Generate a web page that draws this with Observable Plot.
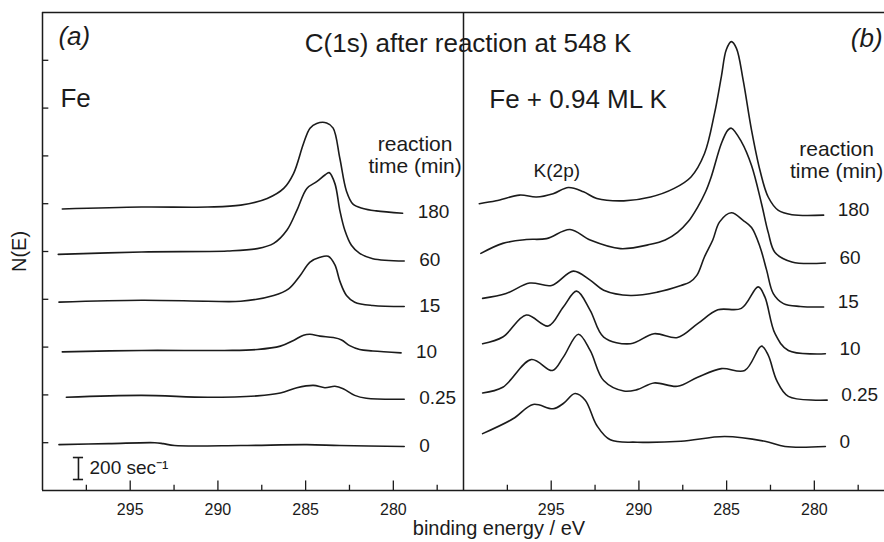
<!DOCTYPE html>
<html>
<head>
<meta charset="utf-8">
<script src="https://cdn.jsdelivr.net/npm/d3@7"></script>
<script src="https://cdn.jsdelivr.net/npm/@observablehq/plot@0.6"></script>
<style>
  html, body { margin: 0; padding: 0; background: #fff; }
  #chart svg { display: block; }
</style>
</head>
<body>
<div id="chart"></div>
<script>
// ---- data (binding energy eV, N(E) in axis-tick units, traces stacked) ----
const panels = ["a", "b"];
const times = ["180", "60", "15", "10", "0.25", "0"];

// panel (a): clean Fe
const fe180 = [[298.87,5.89],[294.35,5.93],[290.58,5.93],[288.70,5.97],[287.19,6.11],[286.25,6.32],[285.69,6.63],[285.12,7.26],[284.75,7.58],[284.37,7.68],[283.80,7.69],[283.43,7.58],[283.05,6.95],[282.67,6.26],[282.30,5.99],[281.73,5.90],[280.98,5.85],[279.47,5.80]];
const fe60 = [[299.10,4.94],[294.35,4.99],[289.45,5.01],[287.76,5.06],[286.82,5.17],[286.06,5.45],[285.50,5.86],[284.93,6.32],[284.37,6.46],[283.90,6.60],[283.66,6.65],[283.33,6.42],[283.05,5.86],[282.77,5.45],[282.39,5.13],[281.92,4.96],[281.17,4.85],[279.38,4.80]];
const fe15 = [[299.06,3.94],[294.35,3.98],[290.58,3.96],[288.70,3.96],[286.82,4.08],[285.97,4.22],[285.31,4.50],[284.75,4.78],[284.18,4.88],[283.71,4.90],[283.33,4.72],[283.05,4.38],[282.67,4.08],[282.20,3.94],[281.17,3.87],[279.38,3.85]];
const fe10 = [[298.87,2.90],[294.35,2.93],[289.64,2.93],[287.76,2.95],[286.44,3.02],[285.69,3.14],[285.12,3.25],[284.75,3.27],[284.18,3.23],[283.43,3.20],[282.95,3.15],[282.49,3.03],[281.92,2.95],[281.17,2.92],[279.56,2.88]];
const fe025 = [[298.64,1.95],[294.35,1.99],[290.58,1.95],[287.76,1.98],[286.44,2.04],[285.50,2.15],[284.56,2.20],[283.90,2.15],[283.33,2.18],[282.86,2.13],[282.20,1.99],[281.54,1.93],[279.38,1.91]];
const fe0 = [[299.06,0.96],[296.23,0.98],[293.60,1.00],[293.12,0.98],[292.47,0.94],[288.70,0.94],[284.93,0.96],[283.05,0.94],[279.38,0.92]];

// panel (b): Fe + 0.94 ML K
const feK180 = [[299.10,6.00],[298.14,6.06],[296.80,6.18],[295.84,6.14],[294.89,6.21],[294.02,6.34],[293.16,6.25],[292.40,6.11],[290.86,6.06],[289.33,6.14],[287.99,6.32],[287.03,6.56],[286.26,7.05],[285.69,7.89],[285.30,8.66],[285.02,9.22],[284.73,9.39],[284.44,9.25],[284.06,8.59],[283.58,7.54],[283.10,6.70],[282.63,6.14],[282.05,5.86],[281.28,5.77],[279.47,5.76]];
const feK60 = [[299.01,4.96],[297.76,5.17],[296.42,5.25],[295.27,5.27],[293.93,5.46],[292.78,5.24],[291.05,5.06],[289.33,5.15],[288.50,5.24],[287.80,5.40],[287.20,5.62],[286.65,5.93],[286.20,6.25],[285.88,6.56],[285.30,7.26],[284.93,7.54],[284.73,7.58],[284.16,7.30],[283.58,6.80],[283.01,6.00],[282.63,5.40],[282.24,4.98],[281.28,4.78],[279.37,4.76]];
const feK15 = [[298.91,4.02],[297.57,4.12],[296.22,4.34],[294.98,4.29],[293.74,4.59],[292.78,4.40],[292.01,4.19],[290.48,4.08],[288.95,4.15],[287.60,4.29],[287.10,4.36],[286.70,4.50],[286.26,4.89],[285.79,5.24],[285.40,5.62],[284.73,5.81],[284.06,5.65],[283.58,5.50],[283.10,5.10],[282.72,4.61],[282.34,4.12],[281.76,3.91],[280.80,3.85],[279.47,3.84]];
const feK10 = [[298.91,3.07],[297.76,3.21],[296.42,3.67],[295.17,3.44],[294.31,3.84],[293.55,4.17],[292.78,3.77],[292.01,3.21],[290.48,3.07],[289.14,3.28],[287.80,3.20],[286.65,3.49],[285.50,3.78],[284.16,3.81],[283.20,4.26],[282.82,4.05],[282.24,3.28],[281.48,2.93],[279.37,2.86]];
const feK025 = [[298.91,2.04],[297.76,2.16],[296.13,2.74],[294.93,2.51],[294.31,2.79],[293.45,3.27],[292.78,2.93],[292.01,2.30],[290.86,2.08],[290.10,2.11],[289.14,2.25],[287.80,2.18],[286.65,2.37],[285.30,2.55],[283.97,2.51],[283.01,3.02],[282.63,2.83],[282.14,2.30],[281.48,1.97],[279.27,1.89]];
const feK0 = [[298.91,1.19],[297.18,1.50],[296.03,1.80],[294.89,1.71],[294.31,1.82],[293.64,2.03],[293.06,1.89],[292.40,1.36],[291.63,1.06],[290.10,1.01],[287.60,1.03],[285.11,1.13],[282.82,1.03],[281.67,0.92],[279.37,0.92]];

const yTicks = [1, 2, 3, 4, 5, 6, 7, 8, 9];
const xMajor = [295, 290, 285, 280];
const xMinor = [297.5, 292.5, 287.5, 282.5, 277.5];
const scaleBarValue = 200;

// ---- build table ----
const seriesA = [fe180, fe60, fe15, fe10, fe025, fe0];
const seriesB = [feK180, feK60, feK15, feK10, feK025, feK0];
const rows = [];
[seriesA, seriesB].forEach((set, p) => set.forEach((pts, i) => pts.forEach(([E, N]) =>
  rows.push({panel: panels[p], time: times[i], key: panels[p] + times[i], E, N}))));

const ink = "#1b1b1b";
const font = "'Liberation Sans', Arial, Helvetica, sans-serif";
const note = (panel, text, x, y, o = {}) =>
  Plot.text([{panel, text}], {fx: "panel", text: "text", x, y, fill: ink, lineAnchor: "bottom", ...o});

const chart = Plot.plot({
  width: 884, height: 542,
  marginLeft: 41, marginRight: 0, marginTop: 12, marginBottom: 52,
  style: {fontFamily: font, background: "#fff", color: ink},
  fx: {domain: panels, padding: 0, axis: null, label: null},
  x: {domain: [300, 276], axis: null},
  y: {domain: [0, 10], axis: null},
  marks: [
    // frame
    Plot.ruleY([0, 10], {stroke: ink, strokeWidth: 1.5}),
    Plot.ruleX([300], {stroke: ink, strokeWidth: 1.5}),
    // inward y ticks on the left axis only
    Plot.ruleY(yTicks.map(y => ({panel: "a", y})), {fx: "panel", y: "y", x1: 300, x2: 299.64, stroke: ink, strokeWidth: 1.3}),
    // inward x ticks
    Plot.ruleX(xMajor, {x: d => d, y1: 0, y2: 0.2, stroke: ink, strokeWidth: 1.3}),
    Plot.ruleX(xMinor, {x: d => d, y1: 0, y2: 0.11, stroke: ink, strokeWidth: 1.3}),
    Plot.text(xMajor, {x: d => d, y: 0, text: d => String(d), dy: 13, lineAnchor: "top", fontSize: 16, fill: ink}),
    // spectra
    Plot.line(rows, {fx: "panel", x: "E", y: "N", z: "key", curve: "catmull-rom", stroke: ink, strokeWidth: 1.6}),
    // reaction time labels at trace ends
    Plot.text(rows.filter(d => d.panel === "a"), Plot.selectLast({fx: "panel", x: "E", y: "N", z: "key", text: "time", dx: 15, dy: -1, textAnchor: "start", fontSize: 19, fill: ink})),
    Plot.text(rows.filter(d => d.panel === "b"), Plot.selectLast({fx: "panel", x: "E", y: "N", z: "key", text: "time", dx: 14, dy: -5, textAnchor: "start", fontSize: 19, fill: ink})),
    // annotations
    note("a", "(a)", 299.09, 9.33, {textAnchor: "start", fontSize: 26, fontStyle: "italic"}),
    note("a", "Fe", 298.98, 8.03, {textAnchor: "start", fontSize: 26}),
    note("a", "C(1s) after reaction at 548 K", 275.74, 9.18, {textAnchor: "middle", fontSize: 26}),
    note("a", "reaction", 278.76, 7.11, {textAnchor: "middle", fontSize: 21}),
    note("a", "time (min)", 278.76, 6.65, {textAnchor: "middle", fontSize: 21}),
    note("b", "reaction", 278.73, 6.99, {textAnchor: "middle", fontSize: 21}),
    note("b", "time (min)", 278.73, 6.53, {textAnchor: "middle", fontSize: 21}),
    note("b", "Fe + 0.94 ML K", 298.53, 8.01, {textAnchor: "start", fontSize: 26}),
    note("b", "K(2p)", 294.68, 6.55, {textAnchor: "middle", fontSize: 19}),
    note("b", "(b)", 276.11, 9.27, {textAnchor: "end", fontSize: 26, fontStyle: "italic"}),
    note("a", "N(E)", 301.31, 5.0, {textAnchor: "middle", lineAnchor: "middle", rotate: -90, fontSize: 20}),
    note("b", "binding energy / eV", 297.98, -0.94, {textAnchor: "middle", fontSize: 20}),
    // intensity scale bar
    Plot.ruleX([{panel: "a"}], {fx: "panel", x: 297.95, y1: 0.23, y2: 0.23 + scaleBarValue * 0.0023, stroke: ink, strokeWidth: 1.6}),
    Plot.ruleY([{panel: "a", y: 0.23}, {panel: "a", y: 0.23 + scaleBarValue * 0.0023}], {fx: "panel", y: "y", x1: 298.24, x2: 297.66, stroke: ink, strokeWidth: 1.6}),
    note("a", `${scaleBarValue} sec\u207B\u00B9`, 297.32, 0.47, {textAnchor: "start", lineAnchor: "middle", fontSize: 19})
  ]
});
document.getElementById("chart").appendChild(chart);
</script>
</body>
</html>
